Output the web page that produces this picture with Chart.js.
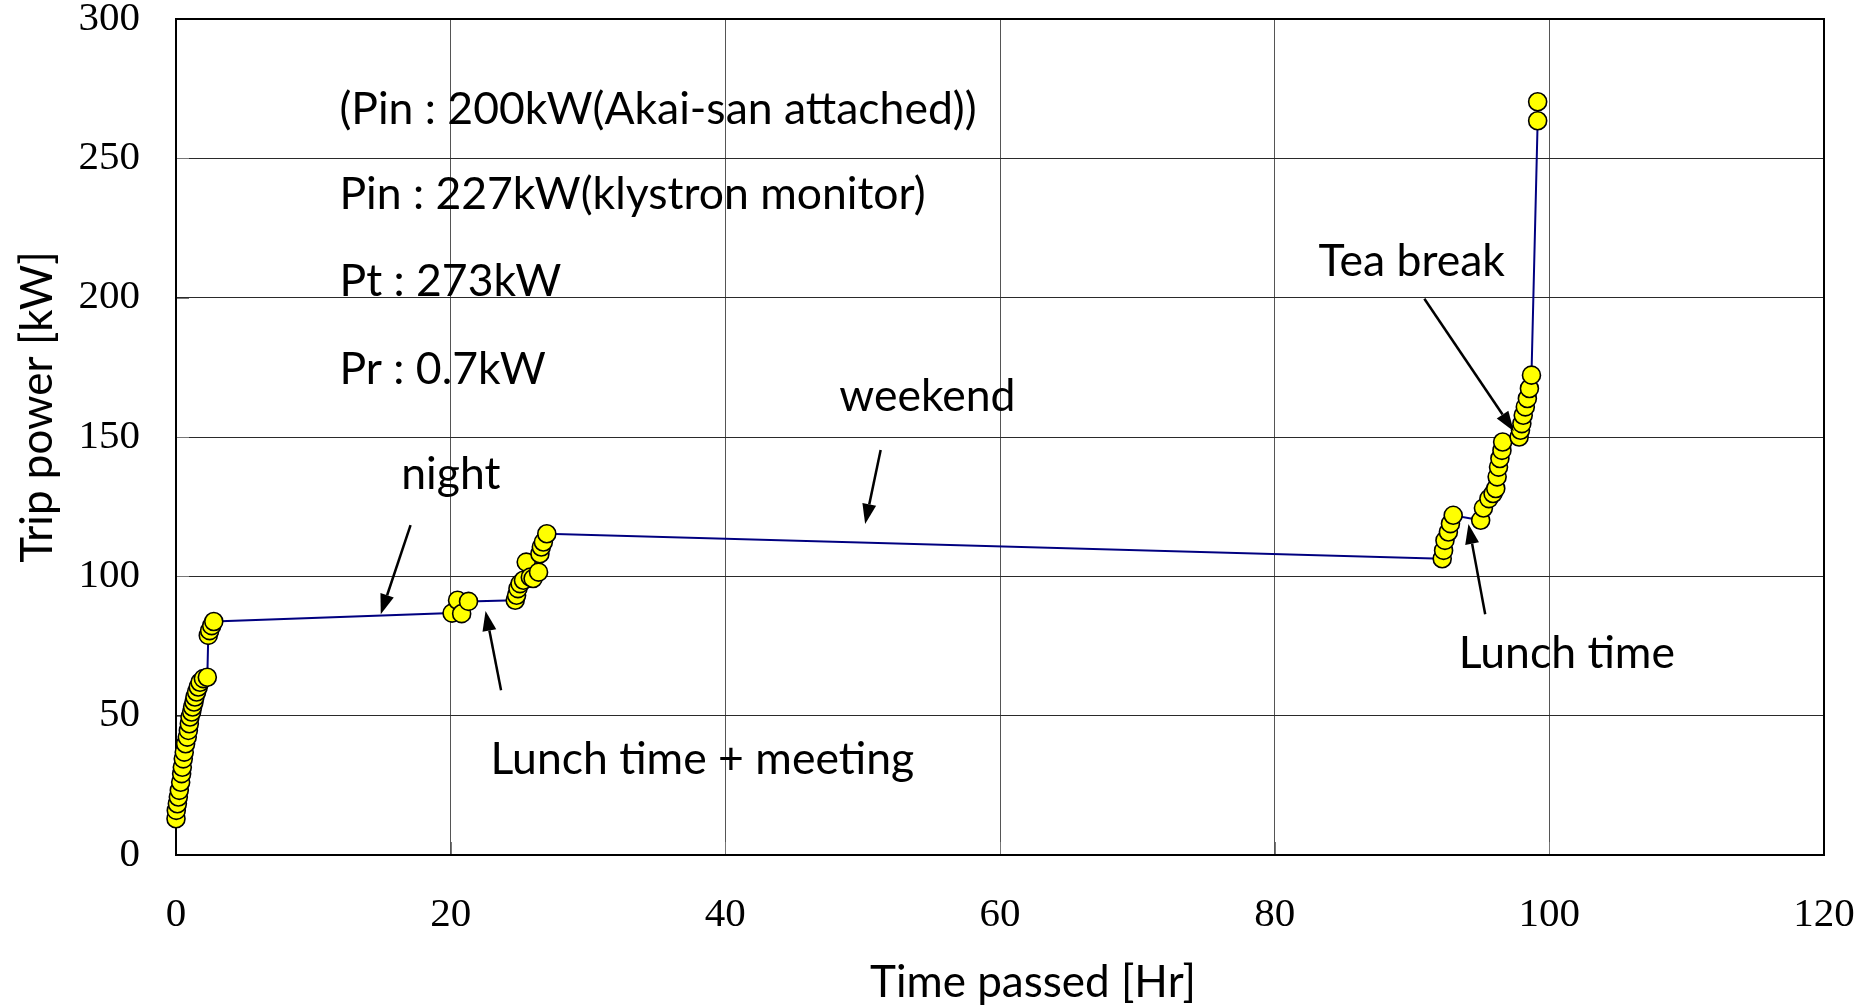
<!DOCTYPE html>
<html>
<head>
<meta charset="utf-8">
<title>Trip power</title>
<script src="https://cdn.jsdelivr.net/npm/chart.js@4.4.1/dist/chart.umd.min.js"></script>
<style>
  html, body { margin: 0; padding: 0; background: #fff; }
</style>
</head>
<body>
<canvas id="graficaTrip" width="1866" height="1006"></canvas>
<script>
// =================== Datos ===================

// Tiempo transcurrido [Hr] de cada disparo
const horas = [
  0.00, 0.02, 0.10, 0.17, 0.24, 0.34, 0.41, 0.46, 0.53, 0.60, 0.70, 0.82,
  0.90, 0.97, 1.02, 1.14, 1.21, 1.31, 1.38, 1.50, 1.62, 1.75, 1.99, 2.28,
  2.35, 2.45, 2.60, 2.75,
  20.1, 20.5, 20.8, 21.3,
  24.7, 24.8, 24.9, 25.05, 25.3, 25.5, 25.8, 26.0, 26.4, 26.5, 26.6, 26.75, 27.0,
  92.2, 92.3, 92.4, 92.65, 92.8, 93.0,
  95.0, 95.2, 95.6, 95.9, 96.1, 96.2, 96.3, 96.4, 96.55, 96.6,
  97.8, 97.9, 98.0, 98.1, 98.25, 98.4, 98.55, 98.7,
  99.15, 99.15
];

// Potencia de disparo [kW]
const potencia = [
  13.0, 16.0, 18.4, 20.8, 23.2, 26.1, 29.2, 31.5, 34.5, 36.9, 39.9, 42.3,
  44.7, 47.1, 49.5, 51.3, 53.1, 54.9, 56.7, 58.5, 60.3, 62.0, 63.3, 63.8,
  78.8, 80.5, 82.3, 83.8,
  86.8, 91.4, 86.6, 91.0,
  91.4, 93.2, 95.6, 97.4, 98.6, 105.1, 99.7, 99.2, 101.5, 108.1, 110.5, 112.3, 115.3,
  106.3, 109.3, 112.9, 115.9, 118.9, 121.9,
  120.1, 124.5, 127.9, 129.7, 131.5, 135.7, 139.2, 142.3, 145.2, 148.2,
  150.0, 152.4, 154.8, 157.8, 160.8, 163.8, 167.4, 172.2,
  263.5, 270.3
];

// Marcas de los ejes
const ticksX = [0, 20, 40, 60, 80, 100, 120];
const ticksY = [0, 50, 100, 150, 200, 250, 300];

// Títulos de los ejes
const tituloX = "Time passed [Hr]";
const tituloY = "Trip power [kW]";

// Textos dentro del área (posición en unidades de datos)
const notas = [
  { texto: "(Pin : 200kW(Akai-san attached))", x: 11.9, y: 267.3 },
  { texto: "Pin : 227kW(klystron monitor)", x: 11.9, y: 236.8 },
  { texto: "Pt : 273kW", x: 11.9, y: 205.6 },
  { texto: "Pr : 0.7kW", x: 11.9, y: 174.3 },
  { texto: "weekend", x: 48.3, y: 164.6 },
  { texto: "night", x: 16.4, y: 136.6 },
  { texto: "Lunch time + meeting", x: 22.9, y: 34.3 },
  { texto: "Tea break", x: 83.2, y: 213.1 },
  { texto: "Lunch time", x: 93.4, y: 72.4 }
];

// Flechas: desde (x1,y1) hasta la punta (x2,y2), en unidades de datos
const flechas = [
  { x1: 17.08, y1: 118.4, x2: 14.91, y2: 86.4 },
  { x1: 23.67, y1: 59.1, x2: 22.54, y2: 87.6 },
  { x1: 51.31, y1: 145.3, x2: 50.18, y2: 118.8 },
  { x1: 90.9, y1: 199.6, x2: 97.41, y2: 152.1 },
  { x1: 95.33, y1: 86.4, x2: 94.11, y2: 118.8 }
];

const puntos = horas.map((h, i) => ({ x: h, y: potencia[i] }));

// =================== Plugin: marco, títulos, textos y flechas ===================

function dibujarFlecha(ctx, x1, y1, x2, y2) {
  const ang = Math.atan2(y2 - y1, x2 - x1);
  const largo = 20, ancho = 7;
  const bx = x2 - largo * Math.cos(ang), by = y2 - largo * Math.sin(ang);
  ctx.beginPath();
  ctx.moveTo(x1, y1);
  ctx.lineTo(bx, by);
  ctx.stroke();
  ctx.beginPath();
  ctx.moveTo(x2, y2);
  ctx.lineTo(bx + ancho * Math.sin(ang), by - ancho * Math.cos(ang));
  ctx.lineTo(bx - ancho * Math.sin(ang), by + ancho * Math.cos(ang));
  ctx.closePath();
  ctx.fill();
}

const pluginNotas = {
  id: "notas",
  beforeDatasetsDraw(chart) {
    const { ctx, chartArea: a, scales: { x, y } } = chart;
    ctx.save();
    // marcas cortas hacia dentro
    ctx.strokeStyle = "#777";
    ctx.lineWidth = 1;
    ctx.beginPath();
    ticksY.forEach(v => {
      const py = Math.round(y.getPixelForValue(v)) + 0.5;
      ctx.moveTo(a.left, py); ctx.lineTo(a.left + 13, py);
    });
    ticksX.forEach(v => {
      const px = Math.round(x.getPixelForValue(v)) + 0.5;
      ctx.moveTo(px, a.bottom); ctx.lineTo(px, a.bottom - 13);
    });
    ctx.stroke();
    // marco del área
    ctx.strokeStyle = "#000";
    ctx.lineWidth = 2;
    ctx.strokeRect(a.left, a.top, a.right - a.left, a.bottom - a.top);
    ctx.restore();
  },
  afterDatasetsDraw(chart) {
    const { ctx, chartArea: a, scales: { x, y } } = chart;
    ctx.save();
    ctx.fillStyle = "#000";
    ctx.strokeStyle = "#000";
    ctx.lineWidth = 2.5;
    ctx.font = "44.5px Lato";
    ctx.textBaseline = "middle";
    ctx.textAlign = "left";
    notas.forEach(n => ctx.fillText(n.texto, x.getPixelForValue(n.x), y.getPixelForValue(n.y)));
    flechas.forEach(f => dibujarFlecha(ctx,
      x.getPixelForValue(f.x1), y.getPixelForValue(f.y1),
      x.getPixelForValue(f.x2), y.getPixelForValue(f.y2)));

    // títulos de los ejes (algo desplazados del centro, como en el original)
    ctx.font = "44px Lato";
    ctx.textAlign = "center";
    ctx.fillText(tituloX, (a.left + a.right) / 2 + 33, 983);
    ctx.translate(38, (a.top + a.bottom) / 2 - 30);
    ctx.rotate(-Math.PI / 2);
    ctx.fillText(tituloY, 0, 0);
    ctx.restore();
  }
};

// =================== Gráfica ===================

const ctxTrip = document.getElementById("graficaTrip").getContext("2d");

new Chart(ctxTrip, {
  type: "scatter",
  data: {
    datasets: [{
      data: puntos,
      showLine: true,
      borderColor: "#000080",
      borderWidth: 2,
      pointRadius: 9,
      pointBorderWidth: 1.6,
      pointBackgroundColor: "#ffff00",
      pointBorderColor: "#000",
      clip: false
    }]
  },
  options: {
    responsive: false,
    animation: false,
    layout: { padding: { top: 19, right: 42, left: 0, bottom: 0 } },
    plugins: {
      legend: { display: false },
      tooltip: { enabled: false }
    },
    scales: {
      x: {
        type: "linear",
        min: 0,
        max: 120,
        afterBuildTicks: (s) => { s.ticks = ticksX.map(v => ({ value: v })); },
        afterFit: (s) => { s.height = 151; s.paddingLeft = 0; s.paddingRight = 0; },
        grid: { color: "#555", lineWidth: 1, drawTicks: false },
        border: { display: false },
        ticks: {
          padding: 36,
          color: "#000",
          font: { family: "Liberation Serif", size: 41 },
          callback: (v) => String(v)
        }
      },
      y: {
        type: "linear",
        min: 0,
        max: 300,
        afterBuildTicks: (s) => { s.ticks = ticksY.map(v => ({ value: v })); },
        afterFit: (s) => { s.width = 176; s.paddingTop = 0; s.paddingBottom = 0; },
        grid: { color: "#2a2a2a", lineWidth: 1, drawTicks: false },
        border: { display: false },
        ticks: {
          padding: 36,
          color: "#000",
          font: { family: "Liberation Serif", size: 41 },
          callback: (v) => String(v)
        }
      }
    }
  },
  plugins: [pluginNotas]
});
</script>
</body>
</html>
